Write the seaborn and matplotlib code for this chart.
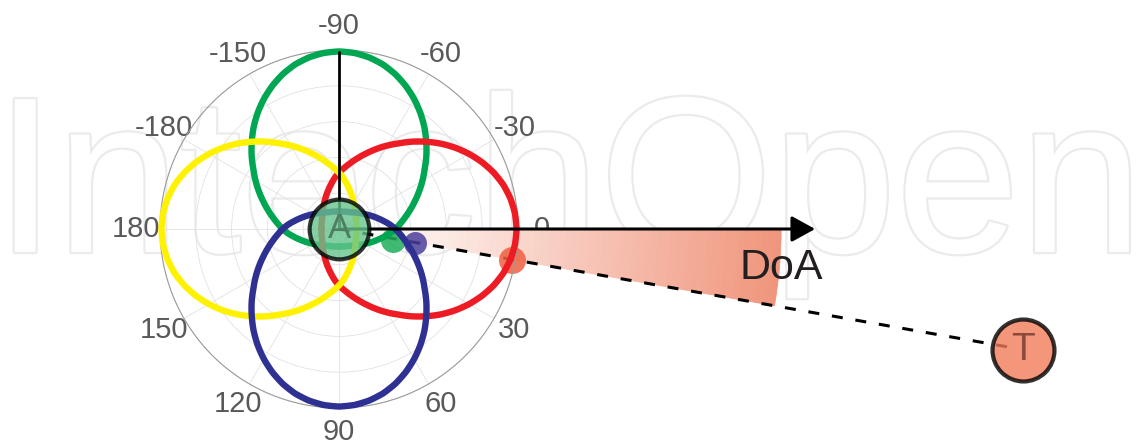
import numpy as np
import pandas as pd
import matplotlib
matplotlib.use("Agg")
import matplotlib.pyplot as plt
import matplotlib.patheffects as pe
from matplotlib.colors import LinearSegmentedColormap
import seaborn as sns

# beam pattern of one antenna (half lobe, mirrored), every 5 deg
lobe_offset_deg = np.arange(0, 181, 5)
lobe_half_r = [0.992, 0.987, 0.973, 0.951, 0.920, 0.882, 0.839, 0.792, 0.742, 0.689,
               0.637, 0.584, 0.538, 0.493, 0.450, 0.411, 0.375, 0.343, 0.315, 0.285,
               0.254, 0.227, 0.204, 0.183, 0.166, 0.152, 0.140, 0.130, 0.121, 0.114,
               0.109, 0.106, 0.103, 0.101, 0.099, 0.098, 0.098]

# pointing direction of each of the four antennas
lobe_names = ['green', 'red', 'yellow', 'blue']
lobe_dirs = [-90, 0, 180, 90]
lobe_colors = {'green': '#00a651', 'red': '#ed1c24', 'yellow': '#fff200', 'blue': '#2e3192'}

# angle ticks (odd labelling kept as in the figure)
tick_deg = [0, 30, 60, 90, 120, 150, 180, 210, 240, 270, 300, 330]
tick_labels = ['0', '30', '60', '90', '120', '150', '180', '-180', '-150', '-90', '-60', '-30']

# measured points where the DoA ray meets each lobe
dot_deg = [11.0, 10.4, 10.2]
dot_r = [0.31, 0.43, 0.98]
dot_colors = ['#1fae5a', '#4b3f9a', '#ef6040']
dot_px = [25, 23, 27]

# target and direction of arrival
doa_deg = 10.0
target_r = 3.88
dash_end_r = 3.79
arrow_r = 2.66
wedge_r = 2.47

# build long table for seaborn
off = np.concatenate([-lobe_offset_deg[::-1], lobe_offset_deg[1:]])
rr = np.concatenate([lobe_half_r[::-1], lobe_half_r[1:]])
rows = []
for name, d in zip(lobe_names, lobe_dirs):
    for o, r in zip(off, rr):
        rows.append((name, np.deg2rad(d + o), r))
df = pd.DataFrame(rows, columns=['lobe', 'theta', 'r'])

sns.set_style('white')
plt.rcParams['font.family'] = ['Liberation Sans', 'DejaVu Sans']

fig = plt.figure(figsize=(11.45, 4.46), dpi=100)

# faint watermark behind everything
fig.text(-0.005, 0.435, 'IntechOpen', fontsize=160, family='Liberation Sans', color='white',
         ha='left', va='baseline', zorder=-1,
         path_effects=[pe.withStroke(linewidth=3.2, foreground='#ebebeb')])

ax = fig.add_axes([160 / 1145, 38 / 446, 358 / 1145, 358 / 446], projection='polar')
ax.set_facecolor('none')
ax.set_theta_zero_location('E')
ax.set_theta_direction(-1)
ax.set_ylim(0, 1)

# gradient wedge between the axis and the DoA ray
cmap = LinearSegmentedColormap.from_list('doa', ['#ffffff', '#f0967d'])
edges = np.linspace(0.1, wedge_r, 70)
for i in range(len(edges) - 1):
    c = cmap(i / (len(edges) - 2))
    ax.bar(0, edges[i + 1] - edges[i], width=np.deg2rad(doa_deg), bottom=edges[i],
           align='edge', color=c, edgecolor=c, linewidth=0.6, clip_on=False, zorder=1)

# dashed line toward the target
ax.plot([np.deg2rad(doa_deg)] * 2, [0, dash_end_r], color='black', lw=2.2,
        ls=(0, (3.6, 4.2)), clip_on=False, zorder=2)

# dots where the ray crosses the lobes
for t, r, c, s in zip(dot_deg, dot_r, dot_colors, dot_px):
    ax.scatter(np.deg2rad(t), r, s=(s * 0.72) ** 2, color=c, alpha=0.85,
               linewidths=0, zorder=2.5, clip_on=False)

# four beam lobes
n_before = len(ax.get_lines())
sns.lineplot(data=df, x='theta', y='r', hue='lobe', hue_order=lobe_names,
             palette=lobe_colors, sort=False, estimator=None, lw=4.6,
             legend=False, ax=ax, zorder=3)
for ln in ax.get_lines()[n_before:]:
    ln.set_clip_on(False)
    ln.set_solid_joinstyle('round')
    # let the polar transform draw each segment as a curve
    ln.get_path()._interpolation_steps = 8

# vertical reference line and DoA arrow
ax.plot([np.deg2rad(270)] * 2, [0, 0.99], color='black', lw=2.0, zorder=3.5)
ax.annotate('', xy=(0, arrow_r), xytext=(0, 0), annotation_clip=False,
            arrowprops=dict(arrowstyle='-|>,head_length=0.4,head_width=0.22',
                            mutation_scale=36, lw=2.2, color='black',
                            shrinkA=0, shrinkB=0), zorder=3.5)

# anchor node A and target T
ax.scatter(0, 0, s=43 ** 2, color='#66c48c', alpha=0.8, edgecolors='black',
           linewidths=3, zorder=5, clip_on=False)
ax.text(0, 0, 'A', fontsize=25, color='#4f7f62', ha='center', va='center', zorder=6)
ax.scatter(np.deg2rad(doa_deg), target_r, s=44.6 ** 2, color='#f17c59', alpha=0.8,
           edgecolors='black', linewidths=3, zorder=5, clip_on=False)
ax.text(np.deg2rad(doa_deg), target_r, 'T', fontsize=28, color='#8b4a3c',
        ha='center', va='center', zorder=6)
ax.text(np.deg2rad(5.0), 2.48, 'DoA', fontsize=31, color='#231f20',
        ha='center', va='center', zorder=6)

# grid, ticks, spine
ax.set_xticks(np.deg2rad(tick_deg))
ax.set_xticklabels(tick_labels)
ax.set_yticks([0.2, 0.4, 0.6, 0.8, 1.0])
ax.set_yticklabels([])
ax.tick_params(axis='x', length=0, pad=10, labelsize=21, labelcolor='#595959')
ax.grid(True, color='#e2e2e2', lw=0.6)
ax.spines['polar'].set_color('#9a9a9a')
ax.spines['polar'].set_linewidth(0.8)
ax.set_xlabel('')
ax.set_ylabel('')

fig.savefig('out.png', dpi=100)
